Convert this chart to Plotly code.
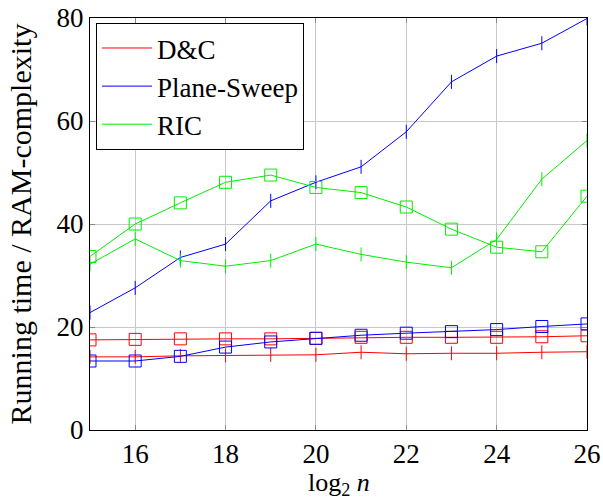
import plotly.graph_objects as go

log2n = [15, 16, 17, 18, 19, 20, 21, 22, 23, 24, 25, 26]

dc_time = [14.2, 14.2, 14.4, 14.5, 14.6, 14.6, 15.1, 14.8, 14.9, 14.9, 15.1, 15.2]
dc_ram = [17.5, 17.6, 17.7, 17.7, 17.7, 17.8, 18.0, 18.0, 18.0, 18.0, 18.1, 18.3]
ps_time = [22.8, 27.6, 33.5, 36.1, 44.5, 48.1, 51.1, 57.9, 67.6, 72.6, 75.1, 79.9]
ps_ram = [13.4, 13.4, 14.3, 16.1, 17.1, 17.8, 18.4, 18.8, 19.1, 19.5, 20.1, 20.6]
ric_time = [32.2, 37.1, 32.9, 31.8, 32.9, 36.1, 34.1, 32.6, 31.5, 37.0, 48.7, 56.2]
ric_ram = [33.7, 40.0, 44.1, 48.1, 49.5, 47.1, 46.1, 43.3, 39.0, 35.5, 34.6, 45.4]

series = [
    ("D&C", "#ff0000", dc_time, dc_ram),
    ("Plane-Sweep", "#0000ff", ps_time, ps_ram),
    ("RIC", "#00ee00", ric_time, ric_ram),
]

fig = go.Figure()
for name, color, t, r in series:
    fig.add_trace(go.Scatter(x=log2n, y=t, mode="lines+markers", showlegend=False,
                             line=dict(color=color, width=1),
                             marker=dict(symbol="line-ns", size=10,
                                         line=dict(color=color, width=1))))
    fig.add_trace(go.Scatter(x=log2n, y=r, mode="lines+markers", showlegend=False,
                             line=dict(color=color, width=1),
                             marker=dict(symbol="square-open", size=12, color=color,
                                         line=dict(color=color, width=1))))
for name, color, t, r in series:
    fig.add_trace(go.Scatter(x=[None], y=[None], mode="lines", name=name,
                             line=dict(color=color, width=1)))

font = "Liberation Serif, DejaVu Serif, serif"
axis_common = dict(showgrid=True, gridcolor="#c8c8c8", gridwidth=1,
                   showline=True, linecolor="black", linewidth=1, mirror="ticks",
                   ticks="inside", ticklen=5, tickcolor="#888888", automargin=False,
                   zeroline=False, tickfont=dict(size=27, color="black", family=font))

fig.update_layout(
    width=603, height=499,
    margin=dict(l=90, r=16, t=18, b=69),
    paper_bgcolor="white", plot_bgcolor="white",
    font=dict(family=font, color="black", size=27),
    xaxis=dict(range=[15, 26], tickvals=[16, 18, 20, 22, 24, 26], **axis_common),
    yaxis=dict(range=[0, 80], tickvals=[0, 20, 40, 60, 80],
               title=dict(text="Running time / RAM-complexity", standoff=16,
                          font=dict(size=30)), **axis_common),
    legend=dict(x=0.012, y=0.988, xanchor="left", yanchor="top",
                bgcolor="white", bordercolor="black", borderwidth=1,
                font=dict(size=27), tracegroupgap=0, itemwidth=50),
    annotations=[dict(text="log<sub>2</sub> <i>n</i>", xref="paper", yref="paper",
                      x=0.5, y=-0.13, xanchor="center", yanchor="middle",
                      showarrow=False, font=dict(size=26))],
)

fig.write_html("out.html", config={"displayModeBar": False},
               post_script="document.body.style.margin='0';document.body.style.overflow='hidden';")
